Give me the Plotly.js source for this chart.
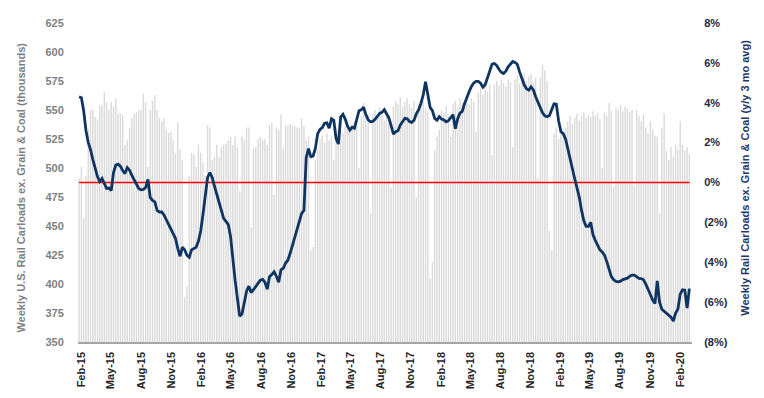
<!DOCTYPE html>
<html><head><meta charset="utf-8">
<script src="https://cdn.plot.ly/plotly-3.0.1.min.js"></script>
<style>html,body{margin:0;padding:0;background:#fff;}#chart{width:764px;height:398px;}</style>
</head><body><div id="chart"></div>
<script>
// Weekly series, first week ending 2015-01-24
const startWeek = '2015-01-24';

// Weekly U.S. rail carloads ex. grain & coal (thousands) - bars, left axis
const carloads = [
491,501,457,493,533,550,550,544,542,554,
554,565,557,550,557,553,560,547,547,546,
520,524,535,543,547,548,550,550,564,557,
501,550,558,563,550,543,540,543,533,530,
531,524,513,539,516,507,389,398,493,513,
512,501,520,513,505,493,537,535,507,510,
520,510,518,520,521,524,527,520,527,518,
480,527,524,535,535,449,517,518,525,527,
524,525,520,537,539,477,535,533,546,517,
537,536,538,536,536,535,535,543,536,524,
527,429,432,507,516,
525,528,522,530,524,527,507,535,533,538,
530,536,539,532,537,540,543,500,545,556,
548,545,461,547,550,545,552,548,541,550,
546,483,553,558,555,561,553,557,560,555,
552,558,475,556,553,558,552,549,405,419,
515,527,533,550,548,553,545,527,555,558,
553,560,556,558,561,555,560,557,531,565,
568,563,570,566,572,511,572,575,571,576,
573,570,576,574,518,576,580,573,578,582,
575,579,581,574,578,491,578,589,584,575,
446,429,530,535,525,533,528,535,540,545,
538,543,547,541,545,548,543,546,544,549,
545,547,542,500,548,545,556,549,484,552,
550,554,549,553,551,548,550,485,550,545,
540,546,535,530,540,533,528,527,461,535,
547,515,507,518,510,520,516,540,520,515,
518,512
];

// Weekly rail carloads ex. grain & coal, y/y % on 3-month average - line, right axis
const yoy3mo = [
4.3,4.25,3.6,2.6,2.0,1.65,1.15,0.65,0.3,0.05,
0.2,-0.05,-0.3,-0.28,-0.4,0.5,0.87,0.92,0.82,0.6,
0.45,0.75,0.62,0.35,0.12,-0.1,-0.3,-0.37,-0.35,-0.25,
0.15,-0.75,-0.9,-0.97,-1.4,-1.48,-1.48,-1.63,-1.86,-2.08,
-2.28,-2.5,-2.8,-3.3,-3.7,-3.25,-3.37,-3.65,-3.75,-3.38,
-3.31,-3.25,-2.95,-2.43,-1.6,-0.6,0.25,0.5,0.25,-0.18,
-0.58,-0.95,-1.45,-1.8,-1.95,-2.1,-2.7,-4.0,-4.9,-5.8,
-6.7,-6.6,-6.05,-5.45,-5.2,-5.52,-5.38,-5.23,-5.03,-4.9,
-4.86,-5.0,-5.35,-4.72,-4.62,-4.48,-4.7,-5.0,-4.38,-4.3,
-4.04,-3.9,-3.55,-3.15,-2.75,-2.27,-1.82,-1.55,-1.4,1.25,
1.7,1.3,1.33,1.72,2.45,2.66,2.75,2.97,2.99,2.72,
3.2,3.12,2.2,1.93,3.28,3.42,3.18,2.82,2.63,2.77,
2.72,3.2,3.6,3.64,3.78,3.4,3.15,3.05,3.06,3.17,
3.32,3.47,3.52,3.65,3.45,3.25,2.85,2.43,2.55,2.6,
2.88,3.03,3.22,3.2,3.06,3.02,3.12,3.45,3.65,3.97,
4.4,5.05,4.4,3.77,3.6,3.22,3.13,3.3,3.18,3.14,
3.04,3.1,3.25,3.4,2.7,3.2,3.48,3.57,3.95,4.3,
4.55,4.82,4.99,5.07,5.07,4.98,4.78,4.9,5.25,5.63,
5.94,5.97,5.87,5.68,5.53,5.47,5.58,5.8,5.96,6.07,
6.02,5.93,5.55,5.17,4.9,4.7,4.63,4.8,4.65,4.3,
4.05,3.82,3.5,3.34,3.3,3.36,3.65,3.95,3.93,3.1,
2.56,2.45,2.2,1.75,1.25,0.7,0.2,-0.23,-0.73,-1.4,
-1.92,-2.2,-2.2,-2.0,-2.62,-2.9,-3.15,-3.38,-3.48,-3.64,
-3.97,-4.4,-4.72,-4.88,-4.96,-4.98,-4.95,-4.87,-4.82,-4.8,
-4.7,-4.65,-4.65,-4.72,-4.81,-4.82,-4.88,-5.1,-5.33,-5.62,
-5.9,-6.07,-4.93,-6.0,-6.36,-6.45,-6.55,-6.64,-6.75,-6.95,
-6.55,-6.35,-5.6,-5.38,-5.4,-6.3,-5.32
];

const tickDates = ['2015-02-01','2015-05-01','2015-08-01','2015-11-01',
  '2016-02-01','2016-05-01','2016-08-01','2016-11-01',
  '2017-02-01','2017-05-01','2017-08-01','2017-11-01',
  '2018-02-01','2018-05-01','2018-08-01','2018-11-01',
  '2019-02-01','2019-05-01','2019-08-01','2019-11-01','2020-02-01'];
const tickLabels = ['Feb-15','May-15','Aug-15','Nov-15','Feb-16','May-16','Aug-16','Nov-16',
  'Feb-17','May-17','Aug-17','Nov-17','Feb-18','May-18','Aug-18','Nov-18',
  'Feb-19','May-19','Aug-19','Nov-19','Feb-20'];
const pctTickVals = [8,6,4,2,0,-2,-4,-6,-8];
const pctTickText = ['8%','6%','4%','2%','0%','(2%)','(4%)','(6%)','(8%)'];
const carTickVals = [350,375,400,425,450,475,500,525,550,575,600,625];

function weekDates(start, n) {
  const out = [];
  const t0 = Date.parse(start + 'T00:00:00Z');
  for (let i = 0; i < n; i++) {
    out.push(new Date(t0 + i * 7 * 86400000).toISOString().slice(0, 10));
  }
  return out;
}
const dates = weekDates(startWeek, carloads.length);

const FONT = 'Liberation Sans, Arial, sans-serif';
const NAVY = '#0f3461';

const traces = [
  { type: 'bar', x: dates, y: carloads, yaxis: 'y', marker: { color: '#d9d9d9', line: { width: 0 } },
    hoverinfo: 'x+y' },
  { type: 'scatter', mode: 'lines', x: [dates[0], dates[dates.length - 1]], y: [0, 0], yaxis: 'y2',
    line: { color: '#ff0000', width: 1.3 }, hoverinfo: 'skip' },
  { type: 'scatter', mode: 'lines', x: dates.slice(0, yoy3mo.length), y: yoy3mo, yaxis: 'y2',
    line: { color: NAVY, width: 2.8 } }
];

const layout = {
  width: 764, height: 398,
  margin: { l: 78, r: 72, t: 23, b: 56 },
  paper_bgcolor: '#ffffff', plot_bgcolor: '#ffffff',
  showlegend: false,
  bargap: 0.4,
  font: { family: FONT },
  xaxis: {
    type: 'date', range: ['2015-01-20 16:00', '2020-03-08'],
    tickmode: 'array', tickvals: tickDates, ticktext: tickLabels, tickangle: -90,
    tickfont: { family: FONT, size: 11, color: '#262626', weight: 'bold' },
    showline: true, linecolor: '#a6a6a6', linewidth: 1.5,
    ticks: 'outside', ticklen: 4, tickcolor: 'rgba(0,0,0,0)',
    showgrid: false, zeroline: false
  },
  yaxis: {
    range: [350, 625], tickmode: 'array', tickvals: carTickVals,
    tickfont: { family: FONT, size: 11, color: '#7f7f7f', weight: 'bold' },
    ticks: 'outside', ticklen: 11, tickcolor: 'rgba(0,0,0,0)',
    showgrid: false, zeroline: false, showline: false
  },
  yaxis2: {
    overlaying: 'y', side: 'right', range: [-8, 8],
    tickmode: 'array', tickvals: pctTickVals, ticktext: pctTickText,
    tickfont: { family: FONT, size: 11, color: '#1b2a4a', weight: 'bold' },
    ticks: 'outside', ticklen: 9, tickcolor: 'rgba(0,0,0,0)',
    showgrid: false, zeroline: false, showline: false
  },
  annotations: [
    { text: 'Weekly U.S. Rail Carloads ex. Grain & Coal (thousands)', xref: 'paper', yref: 'paper',
      x: -0.0928, y: 0.484, xanchor: 'center', yanchor: 'middle', textangle: -90, showarrow: false,
      font: { family: FONT, size: 11, color: '#7f7f7f', weight: 'bold' } },
    { text: 'Weekly Rail Carloads ex. Grain & Coal (y/y 3 mo avg)', xref: 'paper', yref: 'paper',
      x: 1.0863, y: 0.515, xanchor: 'center', yanchor: 'middle', textangle: -90, showarrow: false,
      font: { family: FONT, size: 11, color: '#1f3864', weight: 'bold' } }
  ]
};

Plotly.newPlot('chart', traces, layout, { displayModeBar: false, staticPlot: true });
</script>
</body></html>
